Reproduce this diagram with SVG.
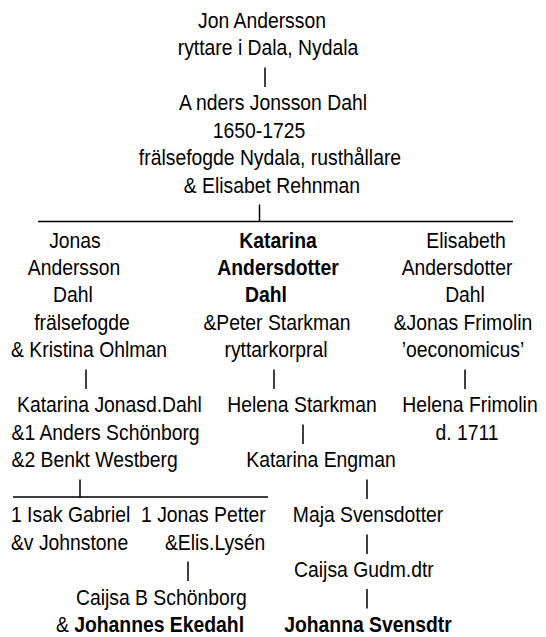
<svg xmlns="http://www.w3.org/2000/svg" width="546" height="637" viewBox="0 0 546 637">
<style>
text{font-family:"Liberation Sans",Arial,sans-serif;font-size:21.5px;fill:#000}
.m{text-anchor:middle}
.b{font-weight:bold}
.c line{stroke:#000;stroke-width:1.5}
</style>
<rect width="546" height="637" fill="#fff"/>
<g class="c" id="connectors">
<line x1="265" y1="67.5" x2="265" y2="87"/>
<line x1="38" y1="221.5" x2="513" y2="221.5"/>
<line x1="259.5" y1="204.5" x2="259.5" y2="222"/>
<line x1="86" y1="369.5" x2="86" y2="389"/>
<line x1="274" y1="369.5" x2="274" y2="389"/>
<line x1="465" y1="369.5" x2="465" y2="389"/>
<line x1="303" y1="424.5" x2="303" y2="444"/>
<line x1="13" y1="497" x2="268" y2="497"/>
<line x1="80" y1="479.5" x2="80" y2="497.5"/>
<line x1="367" y1="479.5" x2="367" y2="499"/>
<line x1="367" y1="534.5" x2="367" y2="554"/>
<line x1="188" y1="561.5" x2="188" y2="581"/>
<line x1="367" y1="589" x2="367" y2="608.5"/>
</g>
<g id="jon" transform="scale(0.9,1)">
<text class="m" x="291.1" y="28">Jon Andersson</text>
<text class="m" x="297.8" y="55.5">ryttare i Dala, Nydala</text>
</g>
<g id="anders" transform="scale(0.9,1)">
<text class="m" x="303.3" y="110.4">A nders Jonsson Dahl</text>
<text class="m" x="287.8" y="137.8">1650-1725</text>
<text class="m" x="300" y="165.3">frälsefogde Nydala, rusthållare</text>
<text class="m" x="302.2" y="192.7">&amp; Elisabet Rehnman</text>
</g>
<g id="jonas" transform="scale(0.9,1)">
<text class="m" x="83.3" y="247.6">Jonas</text>
<text class="m" x="82.2" y="275.1">Andersson</text>
<text class="m" x="81.1" y="302">Dahl</text>
<text class="m" x="91.1" y="330">frälsefogde</text>
<text class="m" x="98.9" y="357.4">&amp; Kristina Ohlman</text>
</g>
<g id="katarina" transform="scale(0.9,1)">
<text class="m b" x="308.9" y="247.6">Katarina</text>
<text class="m b" x="308.9" y="275.1">Andersdotter</text>
<text class="m b" x="295.6" y="302">Dahl</text>
<text class="m" x="307.8" y="330">&amp;Peter Starkman</text>
<text class="m" x="306.7" y="357.4">ryttarkorpral</text>
</g>
<g id="elisabeth" transform="scale(0.9,1)">
<text class="m" x="517.8" y="247.6">Elisabeth</text>
<text class="m" x="507.8" y="275.1">Andersdotter</text>
<text class="m" x="516.7" y="302">Dahl</text>
<text class="m" x="514.4" y="330">&amp;Jonas Frimolin</text>
<text class="m" x="514.4" y="357.4">’oeconomicus’</text>
</g>
<g id="katarina-jonasd" transform="scale(0.9,1)">
<text x="18.9" y="412.3">Katarina Jonasd.Dahl</text>
<text x="12.8" y="439.8">&amp;1 Anders Schönborg</text>
<text x="12.8" y="467.2">&amp;2 Benkt Westberg</text>
</g>
<g id="helena-starkman" transform="scale(0.9,1)">
<text class="m" x="335.6" y="412.3">Helena Starkman</text>
</g>
<g id="helena-frimolin" transform="scale(0.9,1)">
<text class="m" x="522.2" y="412.3">Helena Frimolin</text>
<text class="m" x="518.9" y="439.8">d. 1711</text>
</g>
<g id="katarina-engman" transform="scale(0.9,1)">
<text class="m" x="356.7" y="467.2">Katarina Engman</text>
</g>
<g id="isak" transform="scale(0.9,1)">
<text x="12.2" y="522.1">1 Isak Gabriel</text>
<text x="12.2" y="549.6">&amp;v Johnstone</text>
</g>
<g id="jonas-petter" transform="scale(0.9,1)">
<text x="156.7" y="522.1">1 Jonas Petter</text>
<text x="183.3" y="549.6">&amp;Elis.Lysén</text>
</g>
<g id="maja" transform="scale(0.9,1)">
<text class="m" x="408.9" y="522.1">Maja Svensdotter</text>
</g>
<g id="caijsa-gudm" transform="scale(0.9,1)">
<text class="m" x="404.4" y="577">Caijsa Gudm.dtr</text>
</g>
<g id="caijsa-b" transform="scale(0.9,1)">
<text x="84.4" y="605.5">Caijsa B Schönborg</text>
<text x="62.2" y="632">&amp; <tspan class="b">Johannes Ekedahl</tspan></text>
</g>
<g id="johanna" transform="scale(0.9,1)">
<text class="m b" x="408.9" y="632">Johanna Svensdtr</text>
</g>
</svg>
